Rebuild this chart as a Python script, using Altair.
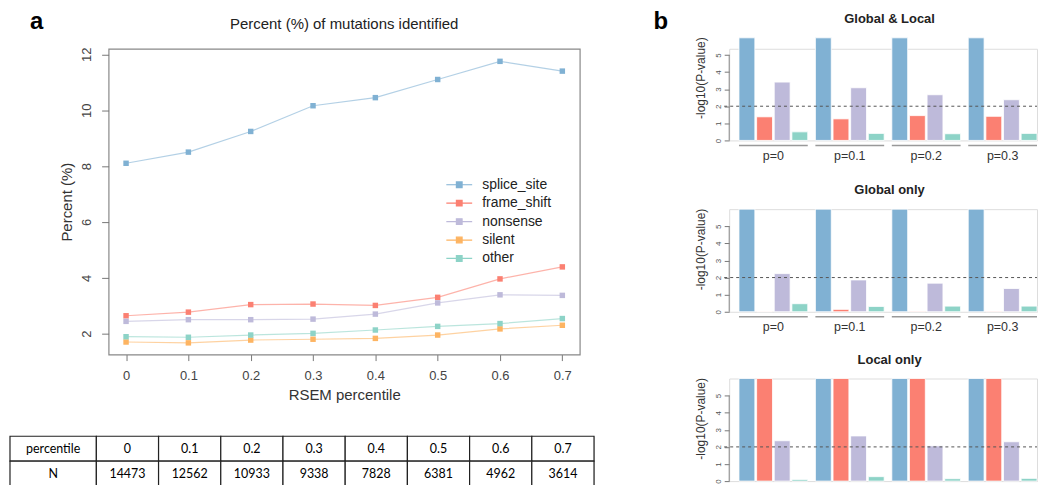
import altair as alt
import pandas as pd

# ---------------- data (panel a) ----------------
percentiles = [0, 0.1, 0.2, 0.3, 0.4, 0.5, 0.6, 0.7]
series_names = ["splice_site", "frame_shift", "nonsense", "silent", "other"]
splice_site = [8.1, 8.5, 9.24, 10.16, 10.45, 11.1, 11.75, 11.4]
frame_shift = [2.64, 2.77, 3.04, 3.06, 3.01, 3.3, 3.96, 4.39]
nonsense = [2.44, 2.5, 2.5, 2.52, 2.7, 3.1, 3.39, 3.37]
silent = [1.7, 1.67, 1.77, 1.8, 1.83, 1.95, 2.17, 2.3]
other = [1.89, 1.87, 1.95, 2.01, 2.13, 2.26, 2.36, 2.54]
series_colors = ["#80B1D3", "#FB8072", "#BEBADA", "#FDB462", "#8DD3C7"]

table_header = ["percentile", "N"]
table_cols = ["0", "0.1", "0.2", "0.3", "0.4", "0.5", "0.6", "0.7"]
table_N = ["14473", "12562", "10933", "9338", "7828", "6381", "4962", "3614"]

# ---------------- data (panel b) ----------------
bar_groups = ["p=0", "p=0.1", "p=0.2", "p=0.3"]
bar_types = ["splice_site", "frame_shift", "nonsense", "other"]
bar_colors = ["#80B1D3", "#FB8072", "#BEBADA", "#8DD3C7"]
panel_titles = ["Global & Local", "Global only", "Local only"]
gl_splice = [6, 6, 6, 6]
gl_frame = [1.38, 1.26, 1.45, 1.41]
gl_nonsense = [3.41, 3.08, 2.67, 2.38]
gl_other = [0.5, 0.41, 0.39, 0.41]
go_splice = [6, 6, 6, 6]
go_frame = [0.02, 0.14, 0.03, 0.03]
go_nonsense = [2.23, 1.86, 1.67, 1.36]
go_other = [0.47, 0.31, 0.33, 0.33]
lo_splice = [6, 6, 6, 6]
lo_frame = [6, 6, 6, 6]
lo_nonsense = [2.36, 2.64, 2.06, 2.3]
lo_other = [0.1, 0.26, 0.14, 0.16]
y_ticks_b = [0, 1, 2, 3, 4, 5]
threshold = [2]

FONT = "Liberation Sans"

# ---------------- panel a: line chart ----------------
rows = []
for name, vals in zip(series_names, [splice_site, frame_shift, nonsense, silent, other]):
    for p, v in zip(percentiles, vals):
        rows.append({"series": name, "percentile": p, "value": v})
df_line = pd.DataFrame(rows)

LW, LH = 473, 307
LEFT_EXT = 99
TOP_EXT = 39
xscale = alt.Scale(domain=[-0.028, 0.728], nice=False, zero=False)
yscale = alt.Scale(domain=[1.25, 12.2], nice=False, zero=False)
color_scale = alt.Scale(domain=series_names, range=series_colors)

legend_path = "M-1.73,0H1.73M-0.38,-0.38H0.38V0.38H-0.38Z"

base = alt.Chart(df_line).encode(
    x=alt.X("percentile:Q", scale=xscale,
            axis=alt.Axis(values=percentiles, format="~g", title="RSEM percentile", grid=False,
                          domain=False, tickColor="#777", tickSize=6, labelFontSize=13,
                          labelColor="#444", labelPadding=9, titleFontSize=15,
                          titleFontWeight="normal", titleColor="#333", titlePadding=5,
                          labelFont=FONT, titleFont=FONT)),
    y=alt.Y("value:Q", scale=yscale,
            axis=alt.Axis(values=[2, 4, 6, 8, 10, 12], title="Percent (%)", grid=False, domain=False,
                          tickColor="#777", tickSize=7, labelAngle=270, labelAlign="center",
                          labelBaseline="bottom", labelFontSize=13, labelColor="#444",
                          labelPadding=8, titleFontSize=15, titleFontWeight="normal",
                          titleColor="#333", titlePadding=6, labelFont=FONT, titleFont=FONT)),
    color=alt.Color("series:N", scale=color_scale, sort=series_names,
                    legend=alt.Legend(title=None, orient="none", legendX=343.5, legendY=128,
                                      symbolType=legend_path, symbolSize=225, symbolStrokeWidth=1.2,
                                      labelFontSize=14, labelColor="#222", labelFont=FONT,
                                      labelOffset=14.5, rowPadding=2.5, padding=0)),
)
lines = base.mark_line(strokeWidth=1.2, strokeOpacity=0.6)
points = base.mark_point(shape="square", filled=True, size=30, opacity=1)

title_a = alt.Chart(pd.DataFrame({"t": ["Percent (%) of mutations identified"]})).mark_text(
    font=FONT, fontSize=15, color="#222", align="center", baseline="middle"
).encode(text="t:N", x=alt.value(LW / 2), y=alt.value(-25))
label_a = alt.Chart(pd.DataFrame({"t": ["a"]})).mark_text(
    font=FONT, fontSize=24, fontWeight="bold", color="black", align="left", baseline="alphabetic"
).encode(text="t:N", x=alt.value(-79), y=alt.value(-20))
spacer_a = alt.Chart(pd.DataFrame({"s": [0]})).mark_rule(opacity=0).encode(
    x=alt.value(-LEFT_EXT), x2=alt.value(-LEFT_EXT + 1), y=alt.value(-TOP_EXT), y2=alt.value(386))

line_chart = alt.layer(spacer_a, lines, points, title_a, label_a).properties(
    width=LW, height=LH, view=alt.ViewBackground(stroke="#888", strokeWidth=1.2))

# ---------------- table (starts at the page's left edge) ----------------
HEADER_W, CELL_W = 86.7, 62.45
TABLE_W = HEADER_W + CELL_W * len(table_cols)
cells = []
for hdr, vals in zip(table_header, [table_cols, table_N]):
    cells.append({"row": hdr, "x0": 0.0, "x1": HEADER_W, "text": hdr})
    for i, v in enumerate(vals):
        x0 = HEADER_W + i * CELL_W
        cells.append({"row": hdr, "x0": x0, "x1": x0 + CELL_W, "text": v})
df_table = pd.DataFrame(cells)
df_table["xm"] = (df_table["x0"] + df_table["x1"]) / 2

tx = alt.Scale(domain=[0, TABLE_W], range=[-LEFT_EXT, -LEFT_EXT + TABLE_W], nice=False, zero=False)
tbase = alt.Chart(df_table).encode(
    y=alt.Y("row:N", sort=table_header, axis=None, scale=alt.Scale(paddingInner=0, paddingOuter=0)))
trect = tbase.mark_rect(fill="white", stroke="#222", strokeWidth=1.2).encode(
    x=alt.X("x0:Q", scale=tx, axis=None), x2="x1:Q")
ttext = tbase.mark_text(font="Lato", fontSize=12.5, color="black").encode(
    x=alt.X("xm:Q", scale=tx, axis=None), text="text:N")
table = alt.layer(trect, ttext).properties(width=TABLE_W - LEFT_EXT, height=50)

left = alt.vconcat(line_chart, table, spacing=0)

# ---------------- panel b: bar charts ----------------
BW = 309
UNIT = 103 / 6.0


def bar_panel(title, vals, view_h, top_ext, spacer_bottom, under_off, show_labels=True, first=False):
    recs = []
    for t, vs in zip(bar_types, vals):
        for g, v in zip(bar_groups, vs):
            recs.append({"group": g, "type": t, "value": v})
    df = pd.DataFrame(recs)
    range_top = view_h - 6 * UNIT
    yb = alt.Scale(domain=[0, 6], nice=False, range=[view_h, range_top])
    xb = alt.Scale(domain=bar_groups, paddingInner=0.1, paddingOuter=0.064, align=1)
    xaxis = alt.Axis(title=None, labelAngle=0, domain=False, ticks=False, labelPadding=9,
                     labels=show_labels, labelFontSize=12.5, labelColor="#333", labelFont=FONT)
    yaxis = alt.Axis(values=y_ticks_b, title="-log10(P-value)", grid=False, domain=False,
                     tickColor="#777", tickSize=5, labelAngle=270, labelAlign="center",
                     labelBaseline="bottom", labelFontSize=8, labelColor="#555", labelPadding=2,
                     labelOverlap=False, labelFlush=False, titleFontSize=12,
                     titleFontWeight="normal", titleColor="#333", titlePadding=7,
                     labelFont=FONT, titleFont=FONT, titleY=range_top + 40)
    bars = alt.Chart(df).mark_bar(stroke="white", strokeWidth=0.8).encode(
        x=alt.X("group:N", sort=bar_groups, scale=xb, axis=xaxis),
        y=alt.Y("value:Q", scale=yb, axis=yaxis),
        xOffset=alt.XOffset("type:N", sort=bar_types,
                            scale=alt.Scale(domain=bar_types, paddingInner=0.1, paddingOuter=0)),
        color=alt.Color("type:N", scale=alt.Scale(domain=bar_types, range=bar_colors), legend=None),
    )
    under = alt.Chart(pd.DataFrame({"group": bar_groups})).mark_rect(color="#999").encode(
        x=alt.X("group:N", sort=bar_groups, scale=xb, axis=xaxis), y=alt.value(view_h + under_off),
        y2=alt.value(view_h + under_off + 1.5))
    axis_line = alt.Chart(pd.DataFrame({"value": [y_ticks_b[0]], "hi": [y_ticks_b[-1]]})).mark_rule(
        color="#888", strokeWidth=1).encode(
        x=alt.value(0), y=alt.Y("value:Q", scale=yb, axis=yaxis), y2="hi:Q")
    dashed = alt.Chart(pd.DataFrame({"value": threshold})).mark_rule(
        color="#555", strokeDash=[3, 3], strokeWidth=1).encode(
        y=alt.Y("value:Q", scale=yb, axis=yaxis), x=alt.value(-5), x2=alt.value(BW))
    ttl = alt.Chart(pd.DataFrame({"t": [title]})).mark_text(
        font=FONT, fontSize=13, fontWeight="bold", color="#222", align="center", baseline="middle"
    ).encode(text="t:N", x=alt.value(161), y=alt.value(range_top - 19))
    spacer = alt.Chart(pd.DataFrame({"s": [0]})).mark_rule(opacity=0).encode(
        x=alt.value(-76), x2=alt.value(-75), y=alt.value(-top_ext), y2=alt.value(spacer_bottom))
    layers = [spacer, bars, under, axis_line, dashed, ttl]
    if first:
        lab = alt.Chart(pd.DataFrame({"t": ["b"]})).mark_text(
            font=FONT, fontSize=24, fontWeight="bold", color="black", align="left", baseline="alphabetic"
        ).encode(text="t:N", x=alt.value(-76), y=alt.value(range_top - 9))
        layers.append(lab)
    return alt.layer(*layers).properties(width=BW, height=view_h)


# first panel shares its top with the line chart's plot (rows of the layout align there)
p1 = bar_panel(panel_titles[0], [gl_splice, gl_frame, gl_nonsense, gl_other],
               view_h=92, top_ext=TOP_EXT, spacer_bottom=131, under_off=4.3, first=True)
p2 = bar_panel(panel_titles[1], [go_splice, go_frame, go_nonsense, go_other],
               view_h=103, top_ext=28, spacer_bottom=140, under_off=4.3)
p3 = bar_panel(panel_titles[2], [lo_splice, lo_frame, lo_nonsense, lo_other],
               view_h=103, top_ext=28, spacer_bottom=100, under_off=4.3, show_labels=False)

right = alt.vconcat(p1, p2, p3, spacing=0)

chart = alt.hconcat(left, right, spacing=57).properties(padding=0, background="white").configure_view(
    stroke=None).configure(font=FONT)

chart.save("out.html", embed_options={"renderer": "svg", "actions": False})
